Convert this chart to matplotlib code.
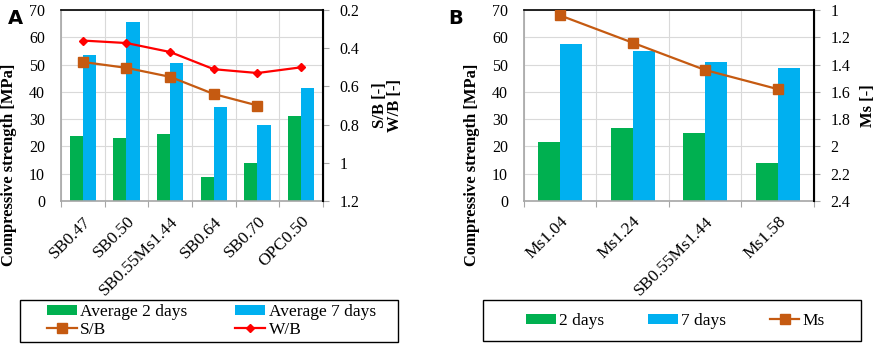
import matplotlib.pyplot as plt
from matplotlib.patches import Rectangle
import numpy as np

# Data, panel A
cats_a = ['SB0.47', 'SB0.50', 'SB0.55Ms1.44', 'SB0.64', 'SB0.70', 'OPC0.50']
avg2_a = [24.0, 23.1, 24.7, 8.9, 13.9, 31.0]
avg7_a = [53.4, 65.7, 50.5, 34.3, 28.0, 41.4]
sb_a = [0.472, 0.503, 0.55, 0.64, 0.70]
wb_a = [0.36, 0.373, 0.42, 0.51, 0.53, 0.50]

# Data, panel B
cats_b = ['Ms1.04', 'Ms1.24', 'SB0.55Ms1.44', 'Ms1.58']
d2_b = [21.7, 26.6, 24.8, 14.0]
d7_b = [57.5, 55.0, 50.8, 48.6]
ms_b = [1.04, 1.24, 1.44, 1.58]

GREEN = '#00B050'
BLUE = '#00B0F0'
ORANGE = '#C55A11'
RED = '#FF0000'
GRID = '#D9D9D9'
SPINE = '#A6A6A6'

plt.rcParams['font.family'] = ['Liberation Serif', 'DejaVu Serif']
FS = 11.5
LFS = 12.5
W, H = 879.0, 352.0


def style_axes(ax, ax2, n, ylim2, yticks2, ytl2):
    ax.set_xlim(0, n)
    ax.set_ylim(0, 70)
    ax.set_yticks(np.arange(0, 71, 10))
    ax.set_xticks(np.arange(n + 1))
    ax.set_xticklabels([])
    ax.grid(True, color=GRID, linewidth=0.8)
    ax.set_axisbelow(True)
    ax.tick_params(axis='y', length=0, labelsize=FS, pad=11.5)
    ax.tick_params(axis='x', length=4, color=SPINE, direction='out')
    for s in ['left', 'bottom']:
        ax.spines[s].set_color(SPINE)
        ax.spines[s].set_linewidth(1.2)
    ax.spines['top'].set_color('black')
    ax.spines['top'].set_linewidth(1.2)
    ax2.set_ylim(*ylim2)
    ax2.set_yticks(yticks2)
    ax2.set_yticklabels(ytl2)
    ax2.tick_params(axis='y', length=4, color=SPINE, labelsize=FS, pad=8)
    ax2.spines['right'].set_color('black')
    ax2.spines['right'].set_linewidth(1.5)
    for s in ['left', 'bottom', 'top']:
        ax2.spines[s].set_visible(False)


def cat_labels(ax, cats):
    for i, c in enumerate(cats):
        ax.text(i + 0.5, -4.6, c, rotation=45, ha='right', va='top',
                rotation_mode='anchor', fontsize=12.5)


def legend_box(x0, y0, x1, y1):
    fig.patches.append(Rectangle((x0 / W, 1 - y1 / H), (x1 - x0) / W, (y1 - y0) / H,
                                 transform=fig.transFigure, fill=False,
                                 edgecolor='black', linewidth=1.0))


fig = plt.figure(figsize=(8.79, 3.52), dpi=100)
w = 0.305

# Panel A
ax1 = fig.add_axes([61 / W, 1 - 201 / H, 262 / W, 191 / H])
x = np.arange(len(cats_a)) + 0.5
ax1.bar(x - w / 2, avg2_a, w, color=GREEN, label='Average 2 days')
ax1.bar(x + w / 2, avg7_a, w, color=BLUE, label='Average 7 days')
ax2 = ax1.twinx()
ax2.plot(x[:len(sb_a)], sb_a, color=ORANGE, lw=1.6, marker='s', ms=6.5,
         label='S/B')
ax2.plot(x, wb_a, color=RED, lw=1.6, marker='D', ms=4.5, label='W/B')
style_axes(ax1, ax2, len(cats_a), (1.2, 0.2),
           [0.2, 0.4, 0.6, 0.8, 1.0, 1.2], ['0.2', '0.4', '0.6', '0.8', '1', '1.2'])
cat_labels(ax1, cats_a)
ax1.set_ylabel('Compressive strength [MPa]', fontsize=12, fontweight='bold')
ax1.yaxis.set_label_coords(-0.168, 0.19)
ax2.set_ylabel('S/B [-]\nW/B [-]', fontsize=12, fontweight='bold', labelpad=9,
               linespacing=0.95)
fig.text(8 / W, 1 - 24 / H, 'A', fontsize=14, fontweight='bold', family='DejaVu Sans')

h1, l1 = ax1.get_legend_handles_labels()
h2, l2 = ax2.get_legend_handles_labels()
legend_box(20, 300, 398, 342)
fig.legend([h1[0], h2[0], h1[1], h2[1]], [l1[0], l2[0], l1[1], l2[1]],
           ncol=2, loc='center left', bbox_to_anchor=(47 / W, 1 - 321 / H),
           fontsize=LFS, frameon=False, handlelength=1.72, handleheight=0.55,
           borderpad=0, borderaxespad=0, labelspacing=0.1, columnspacing=2.75,
           handletextpad=0.2)

# Panel B
bx1 = fig.add_axes([524 / W, 1 - 201 / H, 290 / W, 191 / H])
xb = np.arange(len(cats_b)) + 0.5
bx1.bar(xb - w / 2, d2_b, w, color=GREEN, label='2 days')
bx1.bar(xb + w / 2, d7_b, w, color=BLUE, label='7 days')
bx2 = bx1.twinx()
bx2.plot(xb, ms_b, color=ORANGE, lw=1.6, marker='s', ms=6.5, label='Ms')
style_axes(bx1, bx2, len(cats_b), (2.4, 1.0),
           [1.0, 1.2, 1.4, 1.6, 1.8, 2.0, 2.2, 2.4],
           ['1', '1.2', '1.4', '1.6', '1.8', '2', '2.2', '2.4'])
cat_labels(bx1, cats_b)
bx1.set_ylabel('Compressive strength [MPa]', fontsize=12, fontweight='bold')
bx1.yaxis.set_label_coords(-0.152, 0.19)
bx2.set_ylabel('Ms [-]', fontsize=12, fontweight='bold', labelpad=7)
fig.text(448 / W, 1 - 24 / H, 'B', fontsize=14, fontweight='bold', family='DejaVu Sans')

hb1, lb1 = bx1.get_legend_handles_labels()
hb2, lb2 = bx2.get_legend_handles_labels()
legend_box(483, 300, 861, 341)
fig.legend(hb1 + hb2, lb1 + lb2,
           ncol=3, loc='center left', bbox_to_anchor=(526 / W, 1 - 321 / H),
           fontsize=LFS, frameon=False, handlelength=1.72, handleheight=0.55,
           borderpad=0, borderaxespad=0, columnspacing=2.5, handletextpad=0.2)

plt.savefig('out.png', dpi=100)
